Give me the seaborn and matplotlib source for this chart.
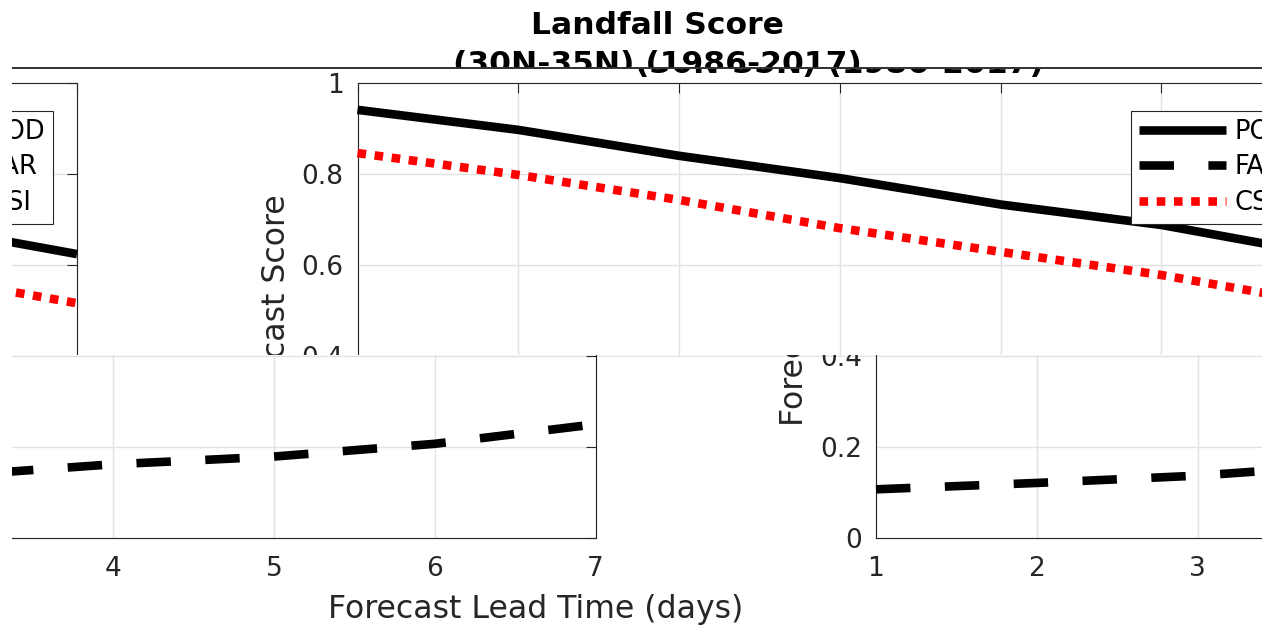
import matplotlib
matplotlib.use("Agg")
import matplotlib.pyplot as plt
import pandas as pd
import seaborn as sns
from matplotlib.transforms import Bbox
from matplotlib.lines import Line2D

# ---------------- data ----------------
lead_days = [1, 2, 3, 4, 5, 6, 7]
pod_scores = [0.941, 0.897, 0.840, 0.791, 0.733, 0.688, 0.624]
far_scores = [0.107, 0.121, 0.137, 0.162, 0.179, 0.207, 0.250]
csi_scores = [0.846, 0.798, 0.743, 0.681, 0.629, 0.578, 0.516]
series_names = ["POD", "FAR", "CSI"]
series_colors = {"POD": "black", "FAR": "black", "CSI": "red"}
series_dashes = {"POD": "", "FAR": (4, 4), "CSI": (1, 1)}
x_ticks = [1, 2, 3, 4, 5, 6, 7]
x_tick_labels = ["1", "2", "3", "4", "5", "6", "7"]
y_ticks = [0, 0.2, 0.4, 0.6, 0.8, 1.0]
y_tick_labels = ["0", "0.2", "0.4", "0.6", "0.8", "1"]
title_text = "Landfall Score\n(30N-35N) (1986-2017)"
x_label = "Forecast Lead Time (days)"
y_label = "Forecast Score"

df = pd.DataFrame({
    "day": lead_days * 3,
    "score": pod_scores + far_scores + csi_scores,
    "series": [n for n in series_names for _ in lead_days],
})

# ---------------- style ----------------
W, H, DPI = 1265, 625, 100
sns.set_theme(style="white")
plt.rcParams["font.family"] = ["DejaVu Sans"]
plt.rcParams["lines.solid_capstyle"] = "butt"
plt.rcParams["lines.dash_capstyle"] = "butt"
INK = "#262626"

AX_W, AX_H, AX_TOP = 964.5, 455.0, 83.0   # axes box size in pixels
PERIOD = 1245                              # horizontal wrap of the shifted strips
CLIP_X0, CLIP_X1 = 12, 1262

fig = plt.figure(figsize=(W / DPI, H / DPI), dpi=DPI)
fig.patch.set_facecolor("white")


def draw_copy(x_left):
    ax = fig.add_axes([x_left / W, (H - AX_TOP - AX_H) / H, AX_W / W, AX_H / H])
    sns.lineplot(data=df, x="day", y="score", hue="series", style="series",
                 hue_order=series_names, style_order=series_names,
                 palette=series_colors, dashes=series_dashes,
                 linewidth=6.2, errorbar=None, legend=False, ax=ax, zorder=3)
    ax.set_xlim(1, 7)
    ax.set_ylim(0, 1)
    ax.set_xticks(x_ticks)
    ax.set_xticklabels(x_tick_labels)
    ax.set_yticks(y_ticks)
    ax.set_yticklabels(y_tick_labels)
    ax.grid(True, color="#e2e2e2", linewidth=1.0)
    ax.set_axisbelow(True)
    ax.tick_params(direction="in", length=7, width=0.8, color=INK,
                   labelcolor=INK, labelsize=19, pad=10, top=True, right=True)
    ax.tick_params(axis="x", pad=13)
    for s in ax.spines.values():
        s.set_visible(True)
        s.set_color(INK)
        s.set_linewidth(0.8)
    ax.set_xlabel(x_label, fontsize=22.7, color=INK, labelpad=8.5)
    ax.set_ylabel(y_label, fontsize=22.7, color=INK, labelpad=7)
    ax.set_title(title_text, fontsize=22.6, fontweight="bold", color="black",
                 linespacing=1.45, pad=7)
    first = {round(float(l.get_ydata()[0]), 3): l for l in ax.lines}
    handles = [first[round(v[0], 3)] for v in (pod_scores, far_scores, csi_scores)]
    leg = ax.legend(handles, series_names, loc="upper right",
                    bbox_to_anchor=(1 - 24 / AX_W, 1 - 28 / AX_H),
                    borderaxespad=0, fontsize=18.5, handlelength=3.4,
                    handletextpad=0.3, labelspacing=0.36, borderpad=0.32,
                    frameon=True, fancybox=False, edgecolor=INK, framealpha=1)
    leg.get_frame().set_linewidth(0.8)
    for t in leg.get_texts():
        t.set_color("black")
    return ax


# horizontal strips of the picture: (top, bottom, axes-left positions)
strips = [
    (0, 68, [175.5]),
    (68.5, 356.5, [357.5, 357.5 - PERIOD]),
    (355, 577, [876, 876 - PERIOD]),
    (577, 625, [53]),
]

made = []
for y_top, y_bot, lefts in strips:
    for xl in lefts:
        made.append((draw_copy(xl), y_top, y_bot))

fig.canvas.draw()
for ax, y_top, y_bot in made:
    bb = Bbox.from_extents(CLIP_X0, H - y_bot, CLIP_X1, H - y_top)
    for art in ax.findobj(include_self=False):
        art.set_clip_box(bb)
        art.set_clip_on(True)

fig.add_artist(Line2D([CLIP_X0 / W, CLIP_X1 / W], [(H - 68) / H] * 2,
                      transform=fig.transFigure, color="#303030", linewidth=1.4))

fig.savefig("out.png", dpi=DPI, facecolor="white")
